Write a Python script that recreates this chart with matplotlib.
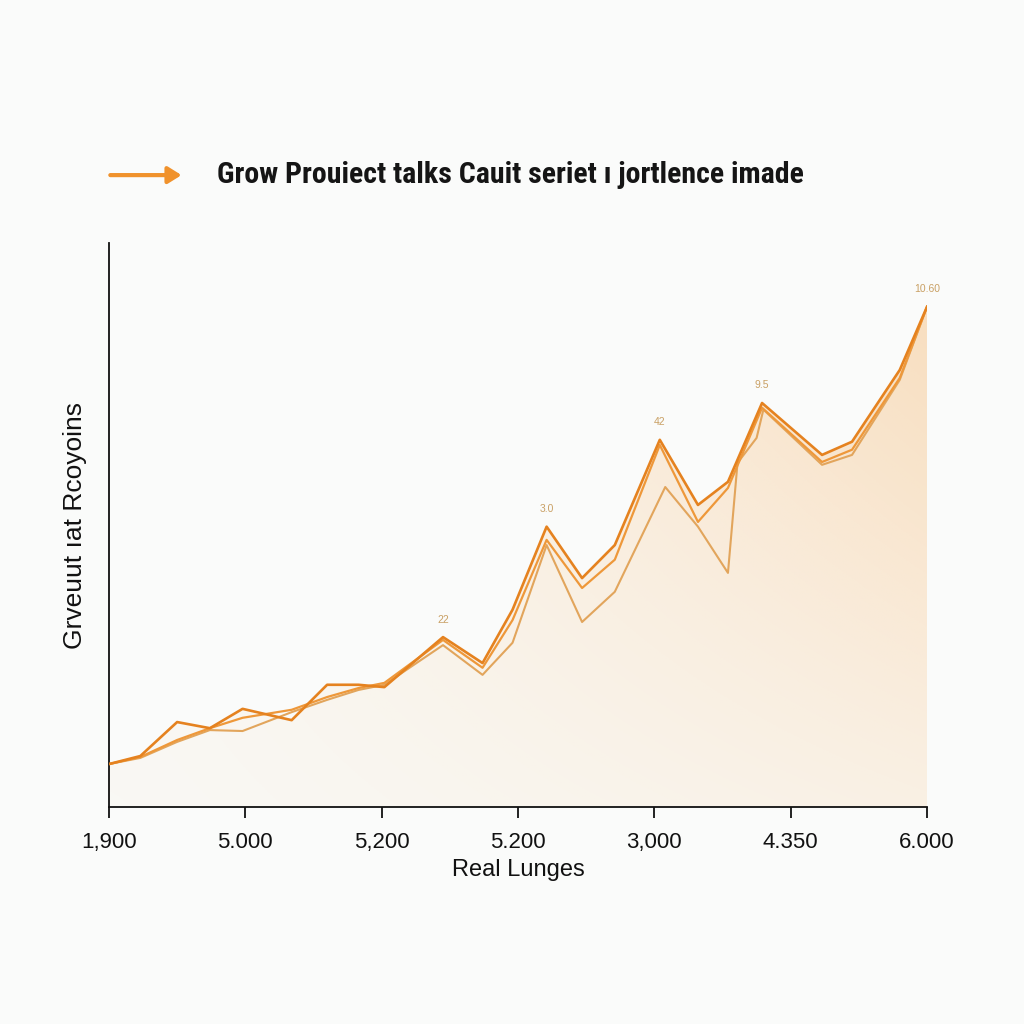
import numpy as np
import matplotlib
matplotlib.use("Agg")
import matplotlib.pyplot as plt
from matplotlib import font_manager as fm
from matplotlib.patches import FancyArrowPatch

# data (x in tick units 0..6)
tick_labels = ["1,900", "5.000", "5,200", "5.200", "3,000", "4.350", "6.000"]

x_a = [0, .23, .50, .74, .98, 1.34, 1.60, 1.83, 2.02, 2.45, 2.74, 2.96, 3.21,
       3.47, 3.71, 4.04, 4.32, 4.54, 4.79, 5.23, 5.45, 5.80, 6.00]
y_a = [0.91, 1.08, 1.80, 1.67, 2.08, 1.84, 2.59, 2.59, 2.54, 3.60, 3.05, 4.18, 5.94,
       4.85, 5.55, 7.78, 6.40, 6.89, 8.56, 7.46, 7.74, 9.26, 10.60]

x_b = [0, .23, .50, .74, .98, 1.34, 1.60, 1.83, 2.02, 2.45, 2.74, 2.96, 3.21,
       3.47, 3.71, 4.04, 4.32, 4.54, 4.79, 5.23, 5.45, 5.80, 6.00]
y_b = [0.91, 1.06, 1.42, 1.67, 1.89, 2.06, 2.33, 2.52, 2.63, 3.54, 2.95, 3.96, 5.66,
       4.64, 5.24, 7.67, 6.04, 6.76, 8.46, 7.31, 7.57, 9.09, 10.60]

x_c = [0, .23, .50, .74, .98, 1.34, 1.60, 1.83, 2.02, 2.45, 2.74, 2.96, 3.21,
       3.47, 3.71, 4.08, 4.32, 4.54, 4.61, 4.75, 4.80, 5.23, 5.45, 5.80, 6.00]
y_c = [0.91, 1.04, 1.38, 1.63, 1.61, 2.01, 2.27, 2.48, 2.59, 3.43, 2.80, 3.48, 5.55,
       3.92, 4.56, 6.78, 5.94, 4.96, 7.29, 7.82, 8.42, 7.25, 7.46, 9.05, 10.60]

peak_x = [2.45, 3.21, 4.04, 4.79, 6.00]
peak_y = [3.60, 5.94, 7.78, 8.56, 10.60]
peak_labels = ["22", "3.0", "42", "9.5", "10.60"]

title = "Grow Prouiect talks Cauit seriet ı jortlence imade"

bg = "#FAFBFA"
plt.rcParams['font.family'] = ['Liberation Sans', 'DejaVu Sans']

# pick a narrow font for the title if one is installed
installed = {f.name for f in fm.fontManager.ttflist}
title_family = ['Liberation Sans', 'DejaVu Sans']
for cand in ['Liberation Sans Narrow', 'DejaVu Sans Condensed', 'Roboto Condensed',
             'Open Sans Condensed', 'Arial Narrow', 'Nimbus Sans Narrow']:
    if cand in installed:
        title_family = [cand] + title_family
        break

fig = plt.figure(figsize=(10.24, 10.24), dpi=100, facecolor=bg)
ax = fig.add_axes([0.1064, 0.2119, 0.7989, 0.5508])
ax.set_facecolor(bg)
ax.set_xlim(0, 6)
ax.set_ylim(0, 11.95)

# gradient fill under the top line
nx, ny = 300, 200
gx = np.linspace(0, 1, nx)[None, :]
gy = np.linspace(0, 1, ny)[:, None]
rgba = np.zeros((ny, nx, 4))
rgba[..., 0] = 247 / 255
rgba[..., 1] = 190 / 255
rgba[..., 2] = 125 / 255
rgba[..., 3] = 0.05 + 0.42 * gx ** 1.3 * (0.3 + 0.7 * gy) + 0.04 * gy
poly = ax.fill_between(x_a, y_a, 0, color="none", lw=0)
img = ax.imshow(rgba, extent=(0, 6, 0, 11.95), origin="lower", aspect="auto", zorder=1)
img.set_clip_path(poly.get_paths()[0], transform=ax.transData)

ax.plot(x_c, y_c, color="#E2A55C", lw=1.5, zorder=3)
ax.plot(x_b, y_b, color="#EE983A", lw=1.6, zorder=3)
ax.plot(x_a, y_a, color="#E5821F", lw=1.9, zorder=4)

for px, py, lab in zip(peak_x, peak_y, peak_labels):
    ax.annotate(lab, (px, py), xytext=(0, 9), textcoords="offset points",
                ha="center", va="bottom", fontsize=7.5, color="#C9A064")

for s in ["top", "right"]:
    ax.spines[s].set_visible(False)
for s in ["left", "bottom"]:
    ax.spines[s].set_color("#111111")
    ax.spines[s].set_linewidth(1.3)
ax.set_yticks([])
ax.set_xticks(range(7))
ax.set_xticklabels(tick_labels, fontsize=16, color="#111111")
ax.tick_params(axis="x", length=8, width=1.3, pad=10, color="#111111")
ax.set_xlabel("Real Lunges", fontsize=17, color="#111111", labelpad=4)
ax.set_ylabel("Grveuut ıat Rcoyoins", fontsize=19, color="#111111", labelpad=16)

# title with arrow marker
arrow = FancyArrowPatch((0.105, 0.829), (0.180, 0.829), transform=fig.transFigure,
                        arrowstyle="-|>,head_length=8,head_width=5",
                        color="#F0922C", lw=3, mutation_scale=1)
fig.patches.append(arrow)
t = fig.text(0.212, 0.829, title, family=title_family,
             fontsize=25, fontweight="bold", color="#151515", va="center", ha="left")

# shrink the title so it spans the same width as the reference (~588 px)
renderer = fig.canvas.get_renderer()
w = t.get_window_extent(renderer).width
t.set_fontsize(25 * 588 / w)

fig.savefig("out.png", dpi=100, facecolor=bg)
